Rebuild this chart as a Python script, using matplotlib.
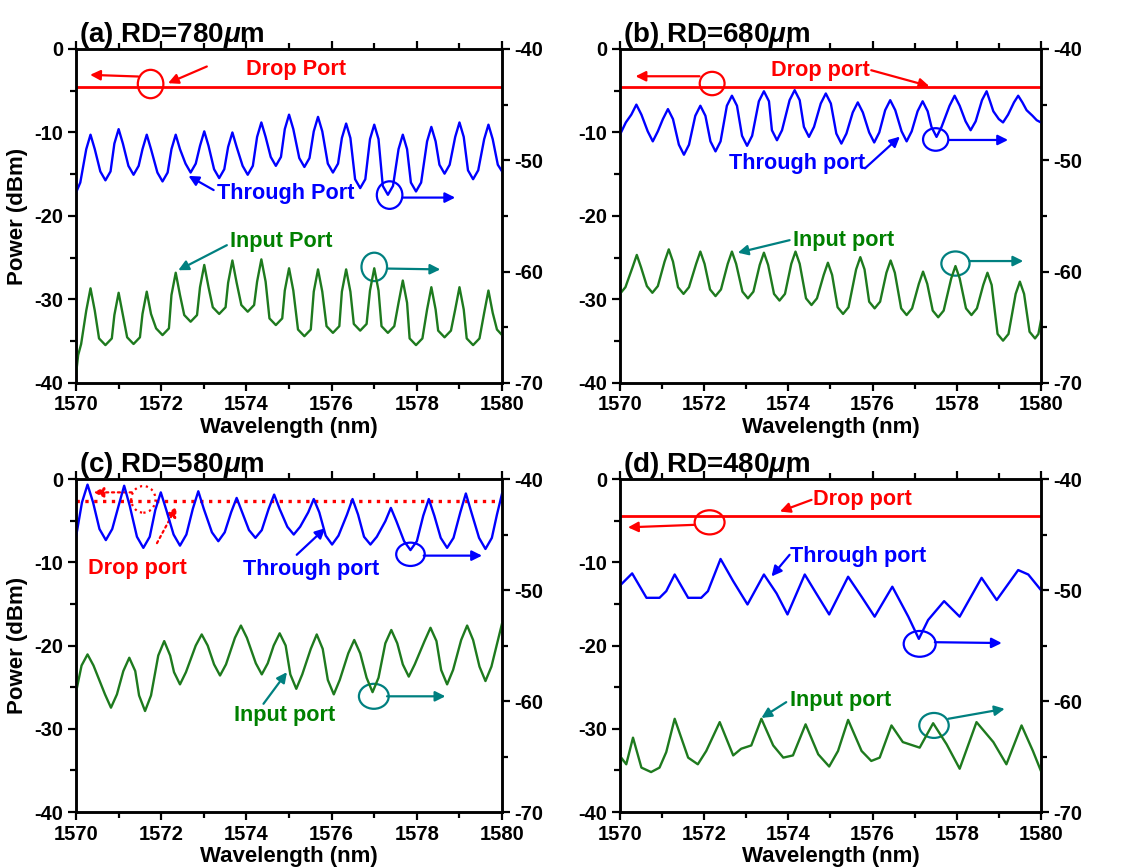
import matplotlib
matplotlib.use("Agg")
import matplotlib.pyplot as plt
from matplotlib.patches import Ellipse
from matplotlib.ticker import MultipleLocator

plt.rcParams["font.family"] = ["Liberation Sans", "DejaVu Sans"]
plt.rcParams["font.weight"] = "bold"
plt.rcParams["axes.unicode_minus"] = False
plt.rcParams["mathtext.fontset"] = "custom"
plt.rcParams["mathtext.rm"] = "Liberation Sans:bold"
plt.rcParams["mathtext.it"] = "Liberation Sans:italic:bold"

RED = "#ff0000"
BLUE = "#0000ff"
GREEN = "#1e7a1e"
TEXT_GREEN = "#008000"
TEAL = "#008080"

# drop port power (dBm, left axis)
drop_x = [1570, 1580]
drop_a = -4.5
drop_b = -4.5
drop_c = -2.6
drop_d = -4.4

# through / input port spectra as (wavelength nm, power dBm on the right axis)
# (a) RD = 780 um
thr_a = [(1570.00, -52.9), (1570.10, -52.0), (1570.24, -49.0), (1570.34, -47.7), (1570.44, -49.0),
         (1570.57, -51.0), (1570.69, -51.8), (1570.81, -51.0), (1570.90, -48.5), (1571.00, -47.2),
         (1571.10, -48.5), (1571.23, -50.5), (1571.35, -51.3), (1571.47, -50.5), (1571.56, -49.0),
         (1571.66, -47.7), (1571.76, -49.0), (1571.91, -51.1), (1572.03, -51.9), (1572.15, -51.1),
         (1572.24, -49.0), (1572.34, -47.7), (1572.44, -49.0), (1572.57, -50.3), (1572.69, -51.1),
         (1572.81, -50.3), (1572.91, -48.7), (1573.01, -47.4), (1573.11, -48.7), (1573.24, -50.8),
         (1573.36, -51.6), (1573.48, -50.8), (1573.57, -48.8), (1573.67, -47.5), (1573.77, -48.8),
         (1573.91, -50.5), (1574.03, -51.3), (1574.15, -50.5), (1574.25, -47.9), (1574.35, -46.6),
         (1574.45, -47.9), (1574.57, -49.7), (1574.69, -50.5), (1574.81, -49.7), (1574.90, -47.2),
         (1575.00, -45.9), (1575.10, -47.2), (1575.24, -49.8), (1575.36, -50.6), (1575.48, -49.8),
         (1575.58, -47.4), (1575.68, -46.1), (1575.78, -47.4), (1575.91, -50.3), (1576.03, -51.1),
         (1576.15, -50.3), (1576.24, -48.0), (1576.34, -46.7), (1576.44, -48.0), (1576.55, -51.7),
         (1576.67, -52.5), (1576.79, -51.7), (1576.90, -48.1), (1577.00, -46.8), (1577.10, -48.1),
         (1577.20, -52.3), (1577.32, -53.1), (1577.44, -52.3), (1577.57, -49.0), (1577.67, -47.7),
         (1577.77, -49.0), (1577.86, -52.0), (1577.98, -52.8), (1578.10, -52.0), (1578.24, -48.3),
         (1578.34, -47.0), (1578.44, -48.3), (1578.53, -50.4), (1578.65, -51.2), (1578.77, -50.4),
         (1578.90, -47.9), (1579.00, -46.6), (1579.10, -47.9), (1579.20, -50.9), (1579.32, -51.7),
         (1579.44, -50.9), (1579.58, -48.1), (1579.68, -46.8), (1579.78, -48.1), (1579.90, -50.4),
         (1580.00, -51.0)]
inp_a = [(1570.00, -69.2), (1570.05, -67.5), (1570.12, -66.5), (1570.24, -63.5), (1570.34, -61.5),
         (1570.44, -63.5), (1570.54, -66.0), (1570.69, -66.6), (1570.84, -66.0), (1570.90, -63.9),
         (1571.00, -61.9), (1571.10, -63.9), (1571.20, -65.9), (1571.35, -66.5), (1571.50, -65.9),
         (1571.56, -63.8), (1571.66, -61.8), (1571.76, -63.8), (1571.88, -65.1), (1572.03, -65.7),
         (1572.18, -65.1), (1572.24, -62.1), (1572.34, -60.1), (1572.44, -62.1), (1572.54, -63.9),
         (1572.69, -64.5), (1572.84, -63.9), (1572.91, -61.4), (1573.01, -59.4), (1573.11, -61.4),
         (1573.21, -63.2), (1573.36, -63.8), (1573.51, -63.2), (1573.57, -61.0), (1573.67, -59.0),
         (1573.77, -61.0), (1573.88, -63.0), (1574.03, -63.6), (1574.18, -63.0), (1574.25, -60.9),
         (1574.35, -58.9), (1574.45, -60.9), (1574.54, -64.2), (1574.69, -64.8), (1574.84, -64.2),
         (1574.90, -61.7), (1575.00, -59.7), (1575.10, -61.7), (1575.21, -65.2), (1575.36, -65.8),
         (1575.51, -65.2), (1575.58, -61.8), (1575.68, -59.8), (1575.78, -61.8), (1575.88, -64.9),
         (1576.03, -65.5), (1576.18, -64.9), (1576.24, -61.8), (1576.34, -59.8), (1576.44, -61.8),
         (1576.52, -64.7), (1576.67, -65.3), (1576.82, -64.7), (1576.90, -61.7), (1577.00, -59.7),
         (1577.10, -61.7), (1577.17, -64.9), (1577.32, -65.5), (1577.47, -64.9), (1577.57, -62.8),
         (1577.67, -60.8), (1577.77, -62.8), (1577.83, -66.0), (1577.98, -66.6), (1578.13, -66.0),
         (1578.24, -63.4), (1578.34, -61.4), (1578.44, -63.4), (1578.50, -65.3), (1578.65, -65.9),
         (1578.80, -65.3), (1578.90, -63.4), (1579.00, -61.4), (1579.10, -63.4), (1579.17, -66.0),
         (1579.32, -66.6), (1579.47, -66.0), (1579.58, -63.7), (1579.68, -61.7), (1579.78, -63.7),
         (1579.88, -65.2), (1580.00, -65.7)]

# (b) RD = 680 um
thr_b = [(1570.00, -47.7), (1570.14, -46.6), (1570.27, -45.9), (1570.39, -45.0), (1570.51, -45.9),
         (1570.66, -47.4), (1570.78, -48.3), (1570.90, -47.4), (1571.02, -46.3), (1571.14, -45.4),
         (1571.26, -46.3), (1571.40, -48.6), (1571.52, -49.5), (1571.64, -48.6), (1571.79, -46.0),
         (1571.91, -45.1), (1572.03, -46.0), (1572.15, -48.3), (1572.27, -49.2), (1572.39, -48.3),
         (1572.54, -45.1), (1572.66, -44.2), (1572.78, -45.1), (1572.90, -47.8), (1573.02, -48.7),
         (1573.14, -47.8), (1573.30, -44.7), (1573.42, -43.8), (1573.54, -44.7), (1573.61, -47.3),
         (1573.73, -48.2), (1573.85, -47.3), (1574.03, -44.6), (1574.15, -43.7), (1574.27, -44.6),
         (1574.37, -47.0), (1574.49, -47.9), (1574.61, -47.0), (1574.77, -44.9), (1574.89, -44.0),
         (1575.01, -44.9), (1575.14, -47.6), (1575.26, -48.5), (1575.38, -47.6), (1575.53, -45.7),
         (1575.65, -44.8), (1575.77, -45.7), (1575.92, -47.5), (1576.04, -48.4), (1576.16, -47.5),
         (1576.30, -45.5), (1576.42, -44.6), (1576.54, -45.5), (1576.69, -47.4), (1576.81, -48.3),
         (1576.93, -47.4), (1577.07, -45.6), (1577.19, -44.7), (1577.31, -45.6), (1577.40, -47.0),
         (1577.52, -47.9), (1577.64, -47.0), (1577.83, -45.1), (1577.95, -44.2), (1578.07, -45.1),
         (1578.21, -46.5), (1578.33, -47.3), (1578.45, -46.5), (1578.60, -44.6), (1578.71, -43.8),
         (1578.80, -44.8), (1578.87, -45.6), (1579.00, -46.3), (1579.10, -46.6), (1579.22, -45.9),
         (1579.36, -44.8), (1579.46, -44.2), (1579.56, -44.8), (1579.66, -45.5), (1579.80, -46.0),
         (1579.90, -46.4), (1580.00, -46.6)]
inp_b = [(1570.00, -62.0), (1570.13, -61.4), (1570.30, -59.6), (1570.40, -58.5), (1570.50, -59.6),
         (1570.64, -61.3), (1570.77, -61.9), (1570.90, -61.3), (1571.06, -59.1), (1571.16, -58.0),
         (1571.26, -59.1), (1571.38, -61.4), (1571.51, -62.0), (1571.64, -61.4), (1571.81, -59.3),
         (1571.91, -58.2), (1572.01, -59.3), (1572.14, -61.6), (1572.27, -62.2), (1572.40, -61.6),
         (1572.56, -59.3), (1572.66, -58.2), (1572.76, -59.3), (1572.91, -61.8), (1573.04, -62.4),
         (1573.17, -61.8), (1573.32, -59.4), (1573.42, -58.3), (1573.52, -59.4), (1573.66, -62.0),
         (1573.79, -62.6), (1573.92, -62.0), (1574.07, -59.3), (1574.17, -58.2), (1574.27, -59.3),
         (1574.42, -62.4), (1574.55, -63.0), (1574.68, -62.4), (1574.84, -60.3), (1574.94, -59.2),
         (1575.04, -60.3), (1575.17, -63.2), (1575.30, -63.8), (1575.43, -63.2), (1575.61, -59.8),
         (1575.71, -58.7), (1575.81, -59.8), (1575.92, -62.7), (1576.05, -63.3), (1576.18, -62.7),
         (1576.33, -60.1), (1576.43, -59.0), (1576.53, -60.1), (1576.68, -63.3), (1576.81, -63.9),
         (1576.94, -63.3), (1577.10, -61.1), (1577.20, -60.0), (1577.30, -61.1), (1577.43, -63.5),
         (1577.56, -64.1), (1577.69, -63.5), (1577.87, -60.6), (1577.97, -59.5), (1578.07, -60.6),
         (1578.22, -63.3), (1578.35, -63.9), (1578.48, -63.3), (1578.63, -61.2), (1578.73, -60.1),
         (1578.83, -61.2), (1578.97, -65.6), (1579.10, -66.2), (1579.23, -65.6), (1579.40, -62.0),
         (1579.50, -60.9), (1579.60, -62.0), (1579.73, -65.4), (1579.86, -66.0), (1579.94, -65.6),
         (1580.00, -64.4)]

# (c) RD = 580 um
thr_c = [(1570.00, -45.2), (1570.14, -42.1), (1570.27, -40.5), (1570.40, -42.1), (1570.55, -44.5),
         (1570.70, -45.5), (1570.85, -44.5), (1571.00, -42.4), (1571.13, -40.6), (1571.26, -42.4),
         (1571.43, -45.2), (1571.58, -46.2), (1571.73, -45.2), (1571.86, -42.8), (1571.99, -41.2),
         (1572.12, -42.8), (1572.29, -45.0), (1572.44, -46.0), (1572.59, -45.0), (1572.74, -42.7),
         (1572.87, -41.1), (1573.00, -42.7), (1573.19, -44.8), (1573.34, -45.6), (1573.49, -44.8),
         (1573.64, -43.0), (1573.77, -41.7), (1573.90, -43.0), (1574.06, -44.6), (1574.21, -45.3),
         (1574.36, -44.6), (1574.52, -42.7), (1574.65, -41.4), (1574.78, -42.7), (1574.96, -44.3),
         (1575.11, -45.0), (1575.26, -44.3), (1575.45, -43.0), (1575.58, -41.8), (1575.71, -43.0),
         (1575.86, -45.1), (1576.01, -45.9), (1576.16, -45.1), (1576.36, -43.2), (1576.49, -41.8),
         (1576.62, -43.2), (1576.76, -45.2), (1576.91, -45.9), (1577.06, -45.2), (1577.26, -43.8),
         (1577.39, -42.6), (1577.52, -43.8), (1577.70, -45.6), (1577.85, -46.4), (1578.00, -45.6),
         (1578.15, -43.3), (1578.28, -41.8), (1578.41, -43.3), (1578.56, -45.3), (1578.71, -46.2),
         (1578.86, -45.3), (1579.02, -43.0), (1579.15, -41.3), (1579.28, -43.0), (1579.46, -45.3),
         (1579.61, -46.3), (1579.76, -45.3), (1579.88, -43.2), (1580.00, -41.3)]
inp_c = [(1570.00, -59.2), (1570.13, -56.8), (1570.27, -55.8), (1570.41, -56.8), (1570.68, -59.4),
         (1570.82, -60.6), (1570.96, -59.4), (1571.11, -57.3), (1571.25, -56.1), (1571.39, -57.3),
         (1571.48, -59.5), (1571.62, -60.9), (1571.76, -59.5), (1571.93, -55.9), (1572.07, -54.6),
         (1572.21, -55.9), (1572.30, -57.4), (1572.44, -58.5), (1572.58, -57.4), (1572.81, -55.0),
         (1572.95, -54.0), (1573.09, -55.0), (1573.24, -56.7), (1573.38, -57.7), (1573.52, -56.7),
         (1573.73, -54.3), (1573.87, -53.2), (1574.01, -54.3), (1574.22, -56.6), (1574.36, -57.6),
         (1574.50, -56.6), (1574.64, -55.0), (1574.78, -53.9), (1574.92, -55.0), (1575.03, -57.6),
         (1575.17, -58.9), (1575.31, -57.6), (1575.51, -55.3), (1575.65, -54.0), (1575.79, -55.3),
         (1575.91, -58.1), (1576.05, -59.4), (1576.19, -58.1), (1576.39, -55.7), (1576.53, -54.5),
         (1576.67, -55.7), (1576.82, -57.9), (1576.96, -59.2), (1577.10, -57.9), (1577.26, -54.8),
         (1577.40, -53.6), (1577.54, -54.8), (1577.67, -56.7), (1577.81, -57.8), (1577.95, -56.7),
         (1578.18, -54.6), (1578.32, -53.4), (1578.46, -54.6), (1578.57, -57.2), (1578.71, -58.5),
         (1578.85, -57.2), (1579.04, -54.5), (1579.18, -53.2), (1579.32, -54.5), (1579.47, -56.9),
         (1579.61, -58.2), (1579.75, -56.9), (1580.00, -53.0)]

# (d) RD = 480 um
thr_d = [(1570.00, -49.6), (1570.29, -48.5), (1570.63, -50.7), (1570.94, -50.7), (1571.10, -50.1),
         (1571.30, -48.6), (1571.62, -50.7), (1571.93, -50.7), (1572.09, -50.1), (1572.39, -47.2),
         (1572.69, -49.2), (1573.03, -51.3), (1573.42, -48.6), (1573.72, -50.3), (1573.98, -52.2),
         (1574.39, -48.6), (1574.63, -50.1), (1574.97, -52.2), (1575.42, -48.8), (1575.74, -50.6),
         (1576.05, -52.4), (1576.47, -49.7), (1576.85, -52.4), (1577.10, -54.4), (1577.32, -52.7),
         (1577.70, -51.0), (1578.07, -52.4), (1578.59, -48.9), (1578.95, -50.9), (1579.46, -48.2),
         (1579.70, -48.6), (1580.00, -50.0)]
inp_d = [(1570.00, -66.9), (1570.03, -65.1), (1570.15, -65.7), (1570.31, -63.3), (1570.51, -66.0),
         (1570.74, -66.4), (1570.94, -66.0), (1571.10, -64.6), (1571.30, -61.6), (1571.62, -65.1),
         (1571.85, -65.7), (1572.05, -64.5), (1572.37, -61.9), (1572.69, -64.9), (1572.88, -64.3),
         (1573.12, -64.0), (1573.36, -61.6), (1573.64, -64.0), (1573.88, -65.1), (1574.11, -64.9),
         (1574.41, -62.1), (1574.71, -64.8), (1574.97, -65.9), (1575.18, -64.5), (1575.42, -61.7),
         (1575.74, -64.5), (1575.97, -65.4), (1576.17, -65.1), (1576.45, -62.2), (1576.72, -63.7),
         (1577.12, -64.2), (1577.44, -62.0), (1577.76, -63.9), (1578.07, -66.1), (1578.47, -61.9),
         (1578.87, -63.7), (1579.18, -65.7), (1579.54, -62.2), (1579.81, -64.5), (1580.00, -66.3)]


def panel(rect, title, drop_level, thr, inp, drop_ls="-", ylabel=True):
    ax = fig.add_axes(rect)
    ax2 = ax.twinx()
    ax.plot(drop_x, [drop_level, drop_level], color=RED, lw=2.0 if drop_ls == "-" else 2.4,
            ls=drop_ls)
    ax2.plot([p[0] for p in thr], [p[1] for p in thr], color=BLUE, lw=1.7)
    ax2.plot([p[0] for p in inp], [p[1] for p in inp], color=GREEN, lw=1.7)

    ax.set_xlim(1570, 1580)
    ax.set_ylim(-40, 0)
    ax2.set_ylim(-70, -40)
    ax.xaxis.set_major_locator(MultipleLocator(2))
    ax.xaxis.set_minor_locator(MultipleLocator(1))
    ax.yaxis.set_major_locator(MultipleLocator(10))
    ax.yaxis.set_minor_locator(MultipleLocator(5))
    ax2.yaxis.set_major_locator(MultipleLocator(10))
    ax2.yaxis.set_minor_locator(MultipleLocator(5))
    for a in (ax, ax2):
        a.tick_params(which="major", direction="out", length=6, width=1.6, labelsize=14.5, pad=3)
        a.tick_params(which="minor", direction="out", length=4, width=1.6)
        for s in a.spines.values():
            s.set_linewidth(1.8)
    ax.tick_params(which="both", top=True)

    ax.set_xlabel("Wavelength (nm)", fontsize=16, fontweight="bold", labelpad=2)
    if ylabel:
        ax.set_ylabel("Power (dBm)", fontsize=16, fontweight="bold")
        ax.yaxis.set_label_coords(-0.112, 0.5)
    ax.text(0.008, 1.022, title, transform=ax.transAxes, fontsize=20,
            fontweight="bold", ha="left", va="baseline")
    return ax


def arrow(ax, tail, head, color, ls="-"):
    ax.annotate("", xy=head, xytext=tail,
                arrowprops=dict(arrowstyle="-|>", color=color, lw=1.6, ls=ls,
                                mutation_scale=15, shrinkA=0, shrinkB=0))


def ring(ax, center, w, h, color, ls="-"):
    ax.add_patch(Ellipse(center, w, h, fill=False, edgecolor=color, lw=1.6, ls=ls))


def label(ax, x, y, s, color):
    ax.text(x, y, s, color=color, fontsize=15.6, fontweight="bold", ha="left", va="center")


fig = plt.figure(figsize=(11.28, 8.68), dpi=100)

# (a)
ax = panel([0.0674, 0.5588, 0.3777, 0.3848], r"(a) RD=780$\mu$m", drop_a, thr_a, inp_a)
label(ax, 1574.0, -2.5, "Drop Port", RED)
arrow(ax, (1573.07, -2.1), (1572.16, -4.1), RED)
ring(ax, (1571.75, -4.2), 0.6, 3.4, RED)
arrow(ax, (1571.46, -3.3), (1570.33, -3.1), RED)
label(ax, 1573.3, -17.3, "Through Port", BLUE)
arrow(ax, (1573.23, -16.9), (1572.64, -15.2), BLUE)
ring(ax, (1577.36, -17.5), 0.6, 3.3, BLUE)
arrow(ax, (1577.67, -17.8), (1578.9, -17.8), BLUE)
label(ax, 1573.62, -23.1, "Input Port", TEXT_GREEN)
arrow(ax, (1573.54, -23.5), (1572.4, -26.5), TEAL)
ring(ax, (1577.0, -26.1), 0.6, 3.4, TEAL)
arrow(ax, (1577.3, -26.3), (1578.55, -26.4), TEAL)

# (b)
ax = panel([0.5496, 0.5588, 0.3732, 0.3848], r"(b) RD=680$\mu$m", drop_b, thr_b, inp_b,
           ylabel=False)
label(ax, 1573.6, -2.55, "Drop port", RED)
arrow(ax, (1575.97, -2.55), (1577.35, -4.46), RED)
ring(ax, (1572.19, -4.14), 0.59, 2.8, RED)
arrow(ax, (1571.89, -3.27), (1570.37, -3.27), RED)
label(ax, 1572.6, -13.7, "Through port", BLUE)
arrow(ax, (1575.82, -14.3), (1576.65, -10.5), BLUE)
ring(ax, (1577.5, -10.84), 0.6, 2.7, BLUE)
arrow(ax, (1577.82, -10.9), (1579.22, -10.9), BLUE)
label(ax, 1574.1, -22.9, "Input port", TEXT_GREEN)
arrow(ax, (1574.03, -22.9), (1572.8, -24.4), TEAL)
ring(ax, (1577.97, -25.7), 0.67, 2.9, TEAL)
arrow(ax, (1578.3, -25.4), (1579.58, -25.4), TEAL)

# (c)
ax = panel([0.0674, 0.0645, 0.3777, 0.3836], r"(c) RD=580$\mu$m", drop_c, thr_c, inp_c,
           drop_ls=":")
label(ax, 1570.29, -10.7, "Drop port", RED)
arrow(ax, (1571.9, -7.7), (1572.36, -3.3), RED, ls=":")
ring(ax, (1571.58, -2.44), 0.57, 3.2, RED, ls=":")
arrow(ax, (1571.31, -1.6), (1570.41, -1.6), RED, ls=":")
label(ax, 1573.93, -10.9, "Through port", BLUE)
arrow(ax, (1575.18, -9.1), (1575.85, -5.9), BLUE)
ring(ax, (1577.85, -9.04), 0.67, 2.8, BLUE)
arrow(ax, (1578.16, -9.2), (1579.53, -9.2), BLUE)
label(ax, 1573.7, -28.4, "Input port", TEXT_GREEN)
arrow(ax, (1574.4, -27.0), (1574.95, -23.2), TEAL)
ring(ax, (1576.99, -26.1), 0.7, 3.0, TEAL)
arrow(ax, (1577.3, -26.1), (1578.67, -26.1), TEAL)

# (d)
ax = panel([0.5496, 0.0645, 0.3732, 0.3836], r"(d) RD=480$\mu$m", drop_d, thr_d, inp_d,
           ylabel=False)
label(ax, 1574.59, -2.5, "Drop port", RED)
arrow(ax, (1574.55, -2.5), (1573.8, -3.9), RED)
ring(ax, (1572.13, -5.2), 0.71, 2.9, RED)
arrow(ax, (1571.77, -5.5), (1570.19, -5.8), RED)
label(ax, 1574.03, -9.3, "Through port", BLUE)
arrow(ax, (1574.03, -9.1), (1573.6, -11.7), BLUE)
ring(ax, (1577.12, -19.8), 0.76, 3.1, BLUE)
arrow(ax, (1577.48, -19.6), (1579.07, -19.7), BLUE)
label(ax, 1574.03, -26.6, "Input port", TEXT_GREEN)
arrow(ax, (1573.95, -26.8), (1573.36, -28.7), TEAL)
ring(ax, (1577.46, -29.6), 0.7, 3.0, TEAL)
arrow(ax, (1577.8, -28.8), (1579.14, -27.6), TEAL)

fig.savefig("out.png", dpi=100)
